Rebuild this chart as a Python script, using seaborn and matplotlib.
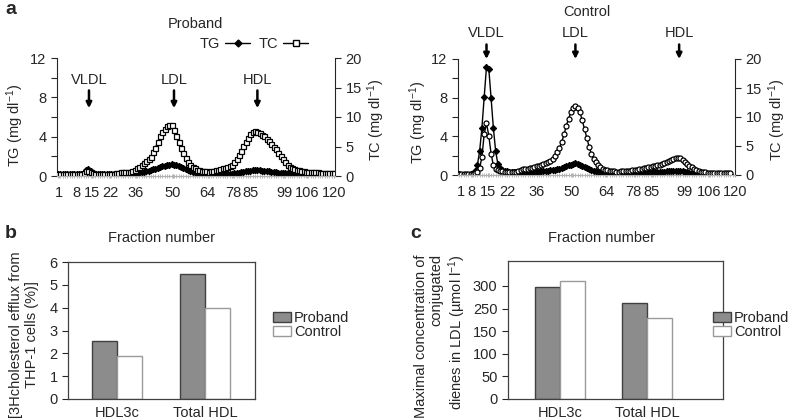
import numpy as np
import pandas as pd
import matplotlib
matplotlib.use("Agg")
import matplotlib.pyplot as plt
import seaborn as sns
from matplotlib.lines import Line2D
from matplotlib.patches import Patch
from matplotlib.ticker import MultipleLocator

# ---- data ----
fractions = list(range(1, 121))
frac_labels = [1, 8, 15, 22, 36, 50, 64, 78, 85, 99, 106, 120]

# panel a, proband (TG left axis, TC right axis, mg/dl)
proband_tg = [0.2, 0.2, 0.2, 0.2, 0.2, 0.2, 0.2, 0.2, 0.2, 0.2,
              0.25, 0.35, 0.6, 0.7, 0.5, 0.35, 0.25, 0.2, 0.2, 0.2,
              0.2, 0.2, 0.2, 0.2, 0.2, 0.2, 0.2, 0.2, 0.25, 0.25,
              0.25, 0.25, 0.3, 0.3, 0.35, 0.35, 0.4, 0.45, 0.5, 0.55,
              0.6, 0.7, 0.75, 0.85, 0.9, 1.0, 1.05, 1.1, 1.15, 1.2,
              1.15, 1.1, 1.05, 0.95, 0.85, 0.75, 0.65, 0.55, 0.45, 0.4,
              0.35, 0.3, 0.25, 0.25, 0.2, 0.2, 0.2, 0.2, 0.2, 0.2,
              0.2, 0.2, 0.2, 0.2, 0.25, 0.25, 0.3, 0.3, 0.35, 0.4,
              0.45, 0.5, 0.5, 0.55, 0.6, 0.6, 0.6, 0.6, 0.55, 0.55,
              0.5, 0.5, 0.45, 0.4, 0.4, 0.35, 0.35, 0.3, 0.3, 0.3,
              0.25, 0.25, 0.25, 0.2, 0.2, 0.2, 0.2, 0.2, 0.2, 0.2,
              0.2, 0.2, 0.2, 0.2, 0.2, 0.2, 0.2, 0.2, 0.2, 0.2]
proband_tc = [0.3, 0.3, 0.3, 0.3, 0.3, 0.3, 0.3, 0.3, 0.3, 0.35,
              0.4, 0.5, 0.8, 0.9, 0.6, 0.45, 0.4, 0.35, 0.35, 0.35,
              0.35, 0.35, 0.35, 0.4, 0.4, 0.45, 0.5, 0.6, 0.7, 0.65,
              0.7, 0.75, 0.8, 1.05, 1.3, 1.6, 1.9, 2.2, 2.5, 2.8,
              3.3, 4.0, 4.8, 5.8, 6.7, 7.4, 8.0, 8.4, 8.7, 8.6,
              7.8, 6.8, 5.7, 4.7, 3.9, 3.0, 2.3, 1.8, 1.5, 1.3,
              1.1, 1.0, 0.9, 0.85, 0.8, 0.75, 0.8, 0.9, 1.0, 1.1,
              1.2, 1.3, 1.4, 1.55, 1.7, 1.9, 2.3, 2.9, 3.5, 4.3,
              5.1, 5.8, 6.4, 7.1, 7.5, 7.6, 7.5, 7.3, 7.0, 6.7,
              6.3, 5.9, 5.5, 5.0, 4.5, 3.9, 3.4, 2.8, 2.3, 1.9,
              1.6, 1.4, 1.2, 1.05, 0.95, 0.9, 0.8, 0.75, 0.7, 0.65,
              0.6, 0.6, 0.6, 0.55, 0.55, 0.55, 0.5, 0.5, 0.5, 0.5]

# panel a, control
control_tg = [0.1, 0.05, 0.05, 0.0, 0.05, 0.1, 0.15, 0.4, 1.0, 2.5,
              4.9, 8.1, 11.2, 11.0, 8.0, 4.9, 2.5, 1.1, 0.7, 0.55,
              0.45, 0.4, 0.35, 0.35, 0.3, 0.3, 0.3, 0.3, 0.3, 0.3,
              0.3, 0.3, 0.3, 0.35, 0.35, 0.35, 0.4, 0.4, 0.45, 0.45,
              0.5, 0.5, 0.55, 0.6, 0.65, 0.75, 0.85, 0.9, 1.0, 1.05,
              1.15, 1.2, 1.15, 1.05, 0.95, 0.85, 0.7, 0.6, 0.5, 0.45,
              0.4, 0.35, 0.3, 0.25, 0.2, 0.2, 0.2, 0.2, 0.2, 0.2,
              0.2, 0.2, 0.2, 0.2, 0.2, 0.2, 0.2, 0.25, 0.25, 0.25,
              0.25, 0.25, 0.3, 0.3, 0.3, 0.3, 0.3, 0.3, 0.35, 0.35,
              0.35, 0.4, 0.4, 0.4, 0.45, 0.45, 0.45, 0.45, 0.4, 0.35,
              0.3, 0.25, 0.2, 0.15, 0.1, 0.1, 0.1, 0.05, 0.05, 0.0,
              -0.05, 0.0, -0.05, 0.0, 0.05, 0.05, 0.0, 0.05, 0.05, 0.05]
control_tc = [0.15, 0.1, 0.1, 0.1, 0.1, 0.15, 0.2, 0.3, 0.6, 1.2,
              3.1, 7.1, 8.9, 6.8, 3.7, 1.7, 1.1, 0.9, 0.75, 0.65,
              0.6, 0.55, 0.5, 0.5, 0.55, 0.6, 0.75, 0.9, 1.0, 1.05,
              1.1, 1.15, 1.25, 1.4, 1.5, 1.6, 1.75, 1.9, 2.05, 2.2,
              2.45, 2.75, 3.3, 3.9, 4.7, 5.7, 7.0, 8.5, 9.7, 10.8,
              11.5, 11.9, 11.6, 10.8, 9.4, 7.9, 6.4, 4.9, 3.6, 2.7,
              2.2, 1.8, 1.4, 1.1, 0.9, 0.8, 0.7, 0.7, 0.65, 0.6,
              0.6, 0.65, 0.65, 0.7, 0.7, 0.75, 0.8, 0.85, 0.9, 0.95,
              1.05, 1.15, 1.25, 1.3, 1.4, 1.5, 1.6, 1.7, 1.8, 1.95,
              2.1, 2.25, 2.45, 2.65, 2.8, 2.9, 2.95, 2.85, 2.6, 2.3,
              1.95, 1.6, 1.3, 1.0, 0.8, 0.65, 0.55, 0.5, 0.45, 0.4,
              0.35, 0.35, 0.3, 0.3, 0.3, 0.3, 0.3, 0.3, 0.3, 0.3]

# panels b and c
groups = ["HDL3c", "Total HDL"]
subjects = ["Proband", "Control"]
efflux_proband = [2.54, 5.47]
efflux_control = [1.9, 3.97]
# panel c: heights on the plotted scale (the original axis labels skip 200)
dienes_proband = [248, 213]
dienes_control = [261, 179]
dienes_ticks = [0, 50, 100, 150, 200, 250]
dienes_ticklabels = ["0", "50", "100", "150", "250", "300"]

sns.set_style("ticks")
plt.rcParams["font.family"] = ["Liberation Sans", "DejaVu Sans"]
plt.rcParams["mathtext.default"] = "regular"
FS = 10.5
plt.rcParams["font.size"] = FS

W, H = 788, 420
fig = plt.figure(figsize=(W / 100, H / 100), dpi=100)


def box(x0, y0, x1, y1):
    # pixel box (top-left origin) -> figure axes rect
    return [x0 / W, 1 - y1 / H, (x1 - x0) / W, (y1 - y0) / H]


def profile(rect, tg, tc, tc_marker, tick_pos, arrows, arrow_y):
    ax = fig.add_axes(rect)
    ax2 = ax.twinx()
    sns.lineplot(x=fractions, y=tg, ax=ax, color="black", lw=1, marker="D",
                 markersize=3.2, markeredgecolor="black", zorder=3)
    sns.lineplot(x=fractions, y=tc, ax=ax2, color="black", lw=1, marker=tc_marker,
                 markersize=3.6, markerfacecolor="white", markeredgecolor="black",
                 markeredgewidth=0.9)
    ax.set_xlim(0.5, 120.5)
    ax.set_ylim(0, 12)
    ax2.set_ylim(0, 20)
    ax.set_yticks([0, 4, 8, 12])
    ax.yaxis.set_minor_locator(MultipleLocator(2))
    ax2.set_yticks([0, 5, 10, 15, 20])
    ax.set_xticks(tick_pos)
    ax.set_xticklabels([str(t) for t in frac_labels])
    ax.xaxis.set_minor_locator(MultipleLocator(1))
    ax.tick_params(axis="x", which="both", length=3, color="#b0b0b0",
                   direction="inout", pad=6, labelsize=FS)
    ax.tick_params(axis="y", which="both", length=4, width=0.8, labelsize=FS)
    ax2.tick_params(axis="y", length=4, width=0.8, labelsize=FS)
    for a in (ax, ax2):
        a.set_xlabel("")
        a.set_ylabel("")
        a.spines["top"].set_visible(False)
        a.spines["bottom"].set_color("#b0b0b0")
    ax.spines["right"].set_visible(False)
    ax2.spines["left"].set_visible(False)
    tip, tail, txt = arrow_y
    for name, xa in arrows:
        ax.annotate("", xy=(xa, tip), xytext=(xa, tail), annotation_clip=False,
                    arrowprops=dict(arrowstyle="-|>", color="black", lw=1.8,
                                    mutation_scale=8, shrinkA=0, shrinkB=0))
        ax.text(xa, txt, name, ha="center", va="bottom", fontsize=FS, clip_on=False)
    return ax, ax2


profile(box(57, 58, 335, 176), proband_tg, proband_tc, "s",
        [1.5, 9, 15.5, 23.5, 34.5, 50.5, 65.5, 76.5, 84, 98.5, 108.5, 120],
        [("VLDL", 14.3), ("LDL", 51), ("HDL", 87)], (6.9, 8.7, 9.0))
profile(box(458, 59, 735, 175), control_tg, control_tc, "o",
        [2, 6.5, 13.5, 22, 35, 50.5, 65.5, 77.5, 85.5, 100, 110.5, 122],
        [("VLDL", 13), ("LDL", 52), ("HDL", 97.5)], (12.0, 13.5, 14.0))

fig.text(195 / W, 1 - 24 / H, "Proband", ha="center", va="center", fontsize=FS)
fig.text(587 / W, 1 - 12 / H, "Control", ha="center", va="center", fontsize=FS)
fig.legend(handles=[Line2D([], [], color="black", lw=1, marker="D", ms=3.5),
                    Line2D([], [], color="black", lw=1, marker="s", ms=4,
                           mfc="white", mec="black")],
           labels=["TG", "TC"], ncol=2, markerfirst=False, frameon=False,
           loc="center", bbox_to_anchor=(254 / W, 1 - 44 / H), fontsize=FS,
           handlelength=1.7, columnspacing=0.6, handletextpad=0.35)

tg_label = "TG (mg dl$^{-1}$)"
tc_label = "TC (mg dl$^{-1}$)"
fig.text(15 / W, 1 - 125 / H, tg_label, rotation=90, ha="center", va="center", fontsize=FS)
fig.text(376 / W, 1 - 120 / H, tc_label, rotation=90, ha="center", va="center", fontsize=FS)
fig.text(418 / W, 1 - 122 / H, tg_label, rotation=90, ha="center", va="center", fontsize=FS)
fig.text(777 / W, 1 - 120 / H, tc_label, rotation=90, ha="center", va="center", fontsize=FS)

# ---- bar panels ----
bar_colors = {"Proband": "#8c8c8c", "Control": "white"}
edge_colors = {"Proband": "#404040", "Control": "#9a9a9a"}


def bars(rect, prob, ctrl, xlim, legend_xy):
    df = pd.DataFrame({"group": groups * 2,
                       "subject": ["Proband"] * 2 + ["Control"] * 2,
                       "value": prob + ctrl})
    ax = fig.add_axes(rect)
    sns.barplot(data=df, x="group", y="value", hue="subject", hue_order=subjects,
                palette=bar_colors, width=0.575, gap=0, legend=False, ax=ax)
    for cont, s in zip(ax.containers, subjects):
        for p in cont:
            p.set_edgecolor(edge_colors[s])
            p.set_linewidth(1)
    ax.set_xlim(*xlim)
    ax.set_xlabel("")
    ax.set_ylabel("")
    ax.tick_params(axis="x", length=0, pad=5, labelsize=FS)
    ax.tick_params(axis="y", length=4, width=0.8, labelsize=FS)
    for sp in ax.spines.values():
        sp.set_color("#404040")
        sp.set_linewidth(0.9)
    fig.legend(handles=[Patch(facecolor=bar_colors[s], edgecolor=edge_colors[s]) for s in subjects],
               labels=subjects, loc="center left", bbox_to_anchor=legend_xy,
               frameon=False, fontsize=FS, labelspacing=0.0, handlelength=1.2,
               handleheight=0.75, handletextpad=0.25, borderaxespad=0, borderpad=0)
    return ax


axb = bars(box(68, 262, 255, 399), efflux_proband, efflux_control,
           (-0.557, 1.57), (273 / W, 1 - 325 / H))
axb.set_ylim(0, 6)
axb.set_yticks(range(0, 7))

axc = bars(box(508, 261, 723, 399), dienes_proband, dienes_control,
           (-0.6, 1.87), (713 / W, 1 - 325 / H))
axc.set_ylim(0, 305)
axc.set_yticks(dienes_ticks)
axc.set_yticklabels(dienes_ticklabels)

fig.text(162 / W, 1 - 238 / H, "Fraction number", ha="center", va="center", fontsize=FS)
fig.text(602 / W, 1 - 238 / H, "Fraction number", ha="center", va="center", fontsize=FS)
fig.text(24 / W, 1 - 335 / H, "[3Hcholesterol efflux from\nTHP-1 cells (%)]",
         rotation=90, ha="center", va="center", multialignment="center",
         fontsize=FS, linespacing=1.2)
fig.text(441 / W, 1 - 336 / H,
         "Maximal concentration of\nconjugated\ndienes in LDL (\u00b5mol l$^{-1}$)",
         rotation=90, ha="center", va="center", multialignment="right",
         fontsize=FS, linespacing=1.15)

fig.text(5 / W, 1 - 9 / H, "a", fontsize=14, fontweight="bold", ha="left", va="center")
fig.text(5 / W, 1 - 233 / H, "b", fontsize=14, fontweight="bold", ha="left", va="center")
fig.text(410 / W, 1 - 233 / H, "c", fontsize=14, fontweight="bold", ha="left", va="center")

fig.savefig("out.png", dpi=100)
